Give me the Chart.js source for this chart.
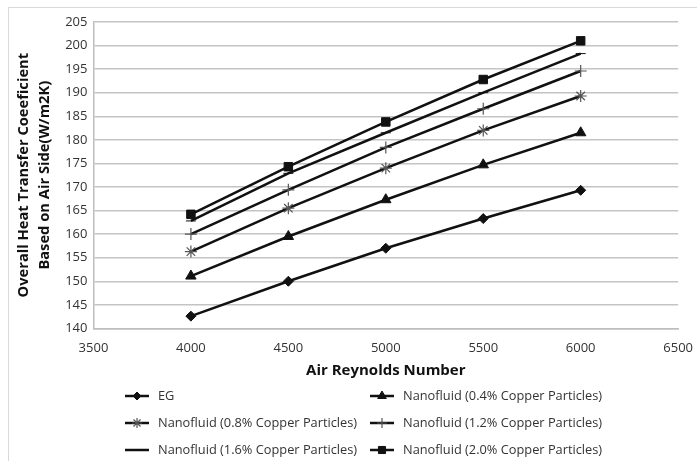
<!DOCTYPE html>
<html>
<head>
<meta charset="utf-8">
<script src="https://cdn.jsdelivr.net/npm/chart.js@4"></script>
<style>
  body { margin: 0; background: #fff; }
  canvas { display: block; }
</style>
</head>
<body>
<canvas id="chart" width="697" height="461"></canvas>
<script>
const reynolds = [4000, 4500, 5000, 5500, 6000];
const seriesNames = [
  "EG",
  "Nanofluid (0.4% Copper Particles)",
  "Nanofluid (0.8% Copper Particles)",
  "Nanofluid (1.2% Copper Particles)",
  "Nanofluid (1.6% Copper Particles)",
  "Nanofluid (2.0% Copper Particles)"
];
const egValues = [142.6, 150.0, 157.0, 163.3, 169.3];
const cu04Values = [151.1, 159.5, 167.3, 174.7, 181.5];
const cu08Values = [156.3, 165.5, 174.0, 182.0, 189.3];
const cu12Values = [160.0, 169.4, 178.4, 186.6, 194.6];
const cu16Values = [162.8, 172.9, 181.5, 190.0, 198.3];
const cu20Values = [164.2, 174.3, 183.8, 192.8, 201.0];
const allValues = [egValues, cu04Values, cu08Values, cu12Values, cu16Values, cu20Values];

const markerStyles = ["rectRot", "triangle", "star", "cross", "line", "rect"];
const markerSizes = [5, 6, 6, 6, 5, 6];

const datasets = allValues.map((vals, i) => ({
  label: seriesNames[i],
  data: vals.map((v, j) => ({ x: reynolds[j], y: v })),
  borderColor: "#111",
  backgroundColor: "#111",
  borderWidth: 2.5,
  pointStyle: markerStyles[i],
  pointRadius: markerSizes[i],
  pointBorderColor: (i === 2 || i === 3) ? "#555" : "#111",
  pointBorderWidth: (i === 2 || i === 3) ? 1.2 : 1,
  pointBackgroundColor: "#111",
  tension: 0
}));

const frameAndLegend = {
  id: "frameAndLegend",
  beforeDraw(chart) {
    const ctx = chart.ctx;
    ctx.save();
    ctx.strokeStyle = "#d9d9d9";
    ctx.lineWidth = 1;
    ctx.strokeRect(8.5, 7.5, 700, 460);
    ctx.restore();
  },
  afterDraw(chart) {
    const ctx = chart.ctx;
    const colX = [137, 382];
    const rowY = [396, 423, 450];
    ctx.save();
    chart.data.datasets.forEach((ds, i) => {
      const cx = colX[i % 2];
      const cy = rowY[Math.floor(i / 2)];
      ctx.strokeStyle = "#111";
      ctx.lineWidth = 2.5;
      ctx.beginPath();
      ctx.moveTo(cx - 12, cy);
      ctx.lineTo(cx + 12, cy);
      ctx.stroke();
      ctx.fillStyle = ds.pointBackgroundColor;
      ctx.strokeStyle = ds.pointBorderColor;
      ctx.lineWidth = ds.pointBorderWidth;
      Chart.helpers.drawPoint(ctx, {
        pointStyle: ds.pointStyle,
        radius: ds.pointRadius - 1,
        rotation: 0,
        borderWidth: ds.pointBorderWidth
      }, cx, cy);
      ctx.fillStyle = "#333";
      ctx.font = "12.8px 'Open Sans'";
      ctx.textBaseline = "middle";
      ctx.textAlign = "left";
      ctx.fillText(ds.label, cx + 21, cy);
    });
    ctx.restore();
  }
};

const plainNumber = (v) => String(v);

new Chart(document.getElementById("chart"), {
  type: "line",
  data: { datasets },
  options: {
    responsive: false,
    animation: false,
    layout: { padding: { left: 10, top: 22, right: 0, bottom: 77 } },
    plugins: {
      legend: { display: false },
      tooltip: { enabled: false }
    },
    scales: {
      x: {
        type: "linear",
        min: 3500,
        max: 6500,
        ticks: { stepSize: 500, callback: plainNumber, color: "#333", font: { family: "Open Sans", size: 13 }, padding: 4 },
        grid: { display: false },
        border: { display: true, color: "#bdbdbd", width: 1.5 },
        title: {
          display: true,
          text: "Air Reynolds Number",
          color: "#111",
          font: { family: "Open Sans", size: 15, weight: "bold" },
          padding: { top: 2 }
        }
      },
      y: {
        min: 140,
        max: 205,
        ticks: { stepSize: 5, callback: plainNumber, color: "#333", font: { family: "Open Sans", size: 13 }, padding: 6 },
        grid: { color: "#c4c4c4", lineWidth: 1.5, drawTicks: false },
        border: { display: true, color: "#bdbdbd", width: 1.5 },
        title: {
          display: true,
          text: ["Overall Heat Transfer Coeeficient", "Based on Air Side(W/m2K)"],
          color: "#111",
          font: { family: "Open Sans", size: 14.7, weight: "bold", lineHeight: 1.4 },
          padding: { bottom: 4 }
        }
      }
    }
  },
  plugins: [frameAndLegend]
});
</script>
</body>
</html>
